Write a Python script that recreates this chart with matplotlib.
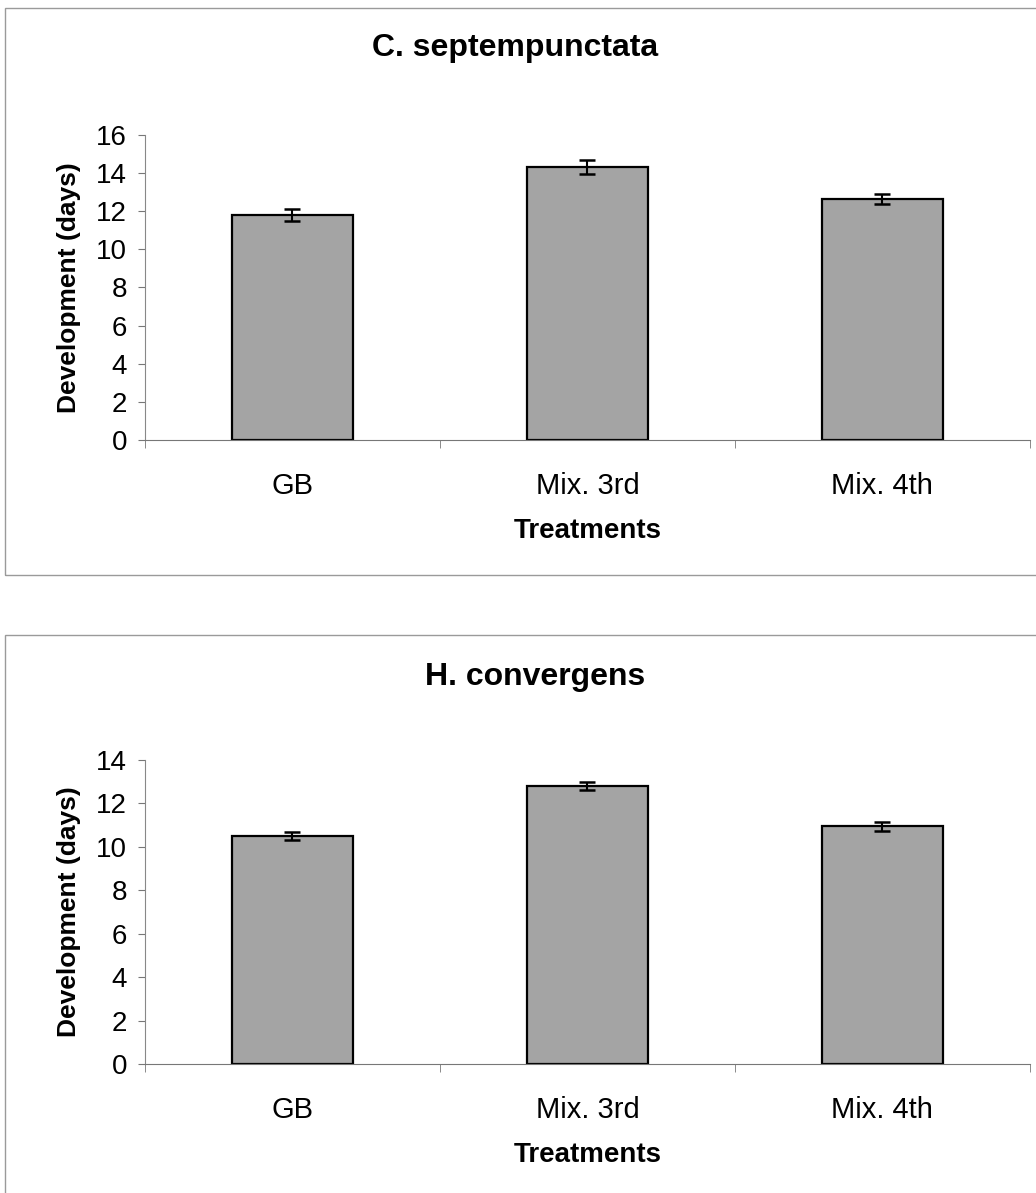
import numpy as np
import matplotlib.pyplot as plt
from matplotlib.patches import Rectangle

plt.rcParams['font.family'] = ['Liberation Sans', 'DejaVu Sans']

treatments = ["GB", "Mix. 3rd", "Mix. 4th"]

c7_means = [11.8, 14.3, 12.65]
c7_err = [0.3, 0.37, 0.25]

hc_means = [10.5, 12.8, 10.95]
hc_err = [0.2, 0.2, 0.2]

panels = [
    ("C. septempunctata", c7_means, c7_err, 16, [0.140, 0.6312, 0.854, 0.2557], (0.497, 0.960)),
    ("H. convergens", hc_means, hc_err, 14, [0.140, 0.1081, 0.854, 0.2548], (0.517, 0.4325)),
]

fig = plt.figure(figsize=(10.36, 11.93), dpi=100)

# panel frames
fig.add_artist(Rectangle((0.005, 0.518), 1.0, 0.475, transform=fig.transFigure,
                         fill=False, edgecolor='#9a9a9a', linewidth=1.0))
fig.add_artist(Rectangle((0.005, -0.01), 1.0, 0.478, transform=fig.transFigure,
                         fill=False, edgecolor='#9a9a9a', linewidth=1.0))

x = np.arange(len(treatments))
for title, means, errs, ymax, pos, tpos in panels:
    ax = fig.add_axes(pos)
    ax.bar(x, means, width=0.41, color='#a4a4a4', edgecolor='black', linewidth=1.6, zorder=2)
    ax.errorbar(x, means, yerr=errs, fmt='none', ecolor='black', elinewidth=1.5,
                capsize=6, capthick=1.8, zorder=3)
    ax.set_xlim(-0.5, 2.5)
    ax.set_ylim(0, ymax)
    ax.set_yticks(np.arange(0, ymax + 1, 2))
    ax.set_xticks(x)
    ax.set_xticklabels(treatments)
    ax.set_xticks([-0.5, 0.5, 1.5, 2.5], minor=True)
    ax.tick_params(axis='x', which='major', length=0, pad=23, labelsize=21)
    ax.tick_params(axis='x', which='minor', length=6, color='#777777', direction='out')
    ax.tick_params(axis='y', length=5, color='#777777', pad=8, labelsize=20)
    for s in ['top', 'right']:
        ax.spines[s].set_visible(False)
    ax.spines['left'].set_color('#888888')
    ax.spines['bottom'].set_color('#777777')
    ax.set_ylabel("Development (days)", fontsize=19, fontweight='bold', labelpad=11)
    ax.set_xlabel("Treatments", fontsize=20, fontweight='bold', labelpad=13)
    fig.text(tpos[0], tpos[1], title, fontsize=23, fontweight='bold', ha='center', va='center')

fig.savefig("out.png", dpi=100)
